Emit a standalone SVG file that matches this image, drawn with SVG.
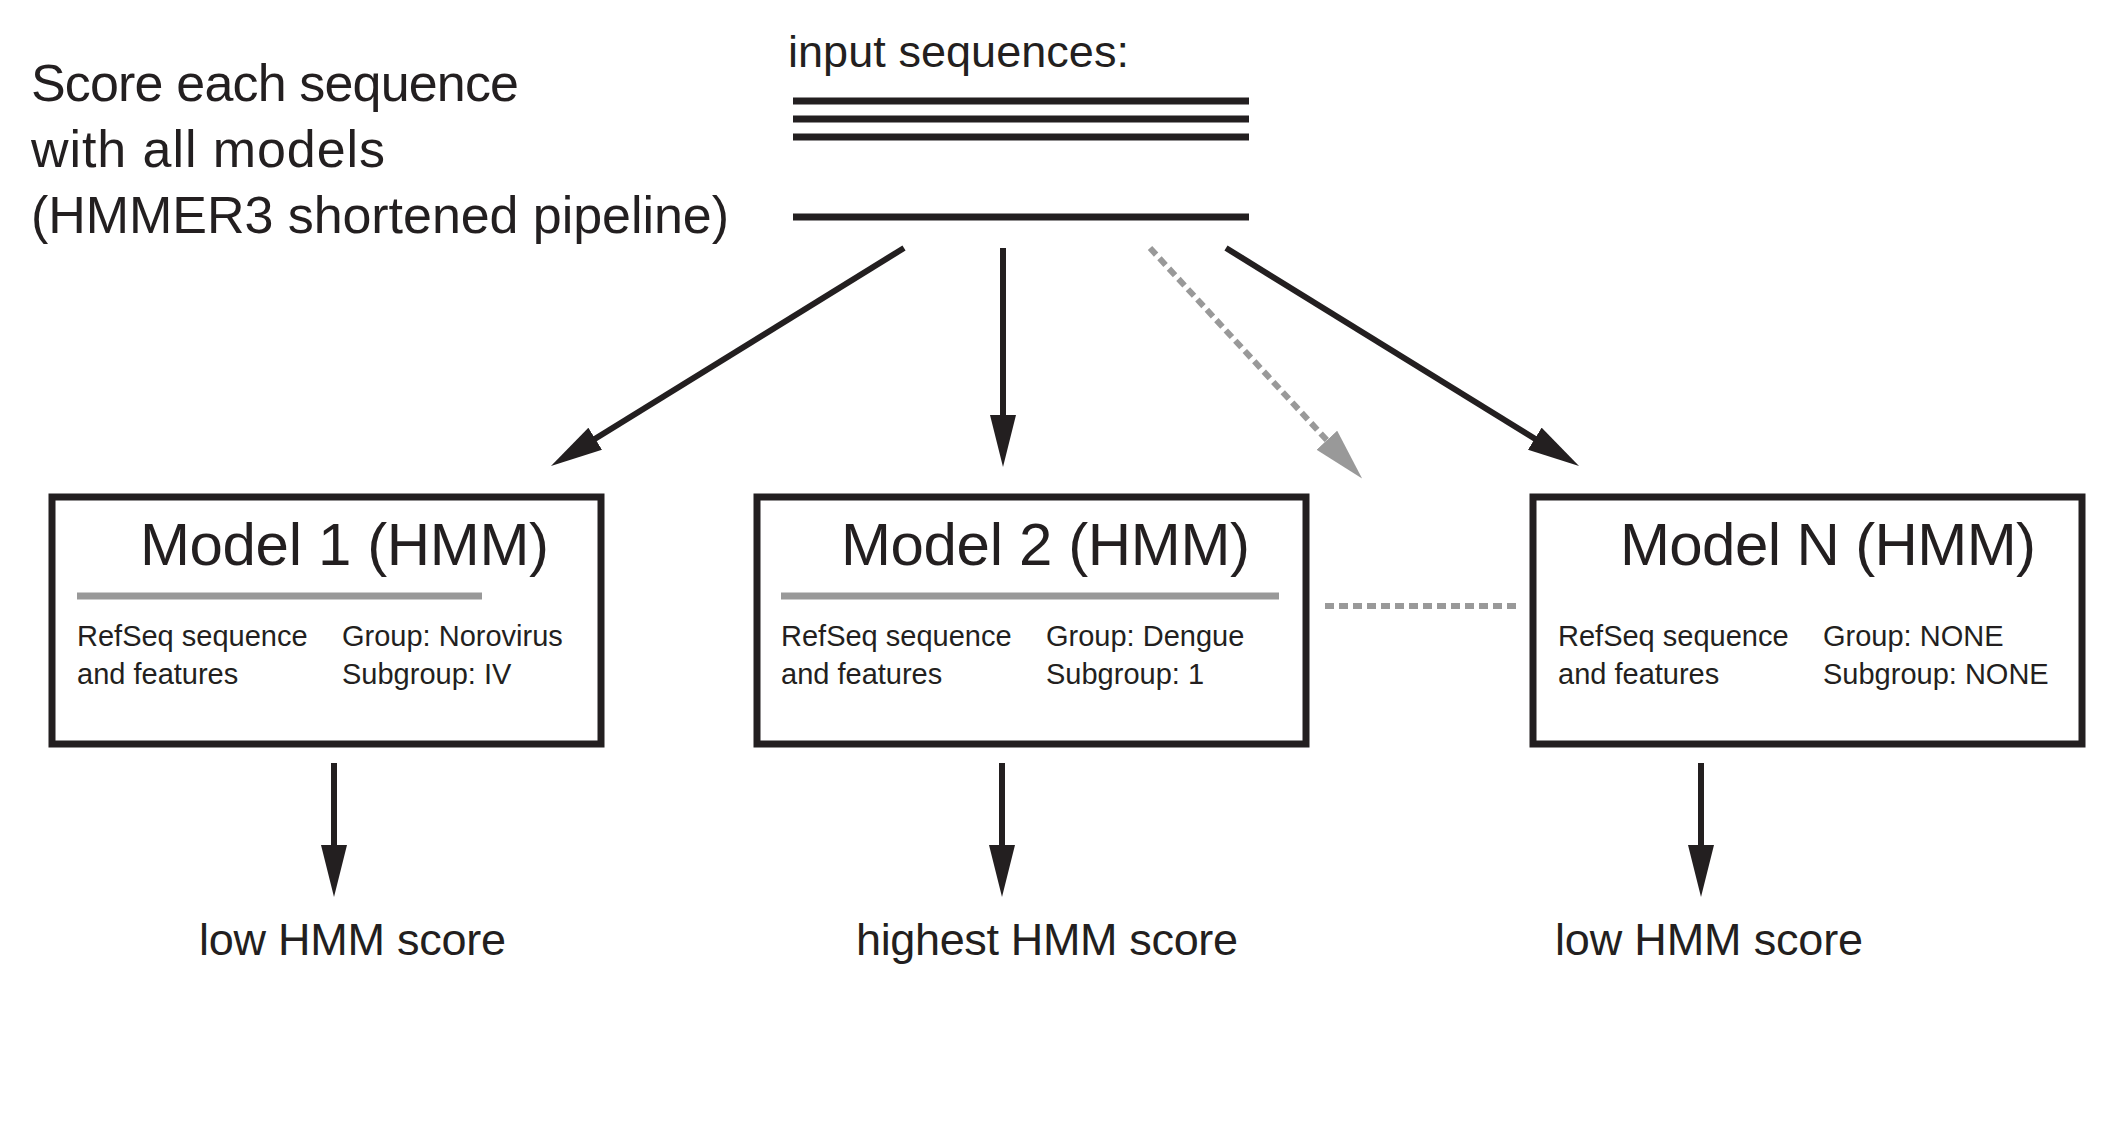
<svg xmlns="http://www.w3.org/2000/svg" width="2126" height="1128" viewBox="0 0 2126 1128">
<style>
text{font-family:"Liberation Sans",Arial,sans-serif;fill:#231f20}
.title{font-size:52px}
.inp{font-size:45px}
.model{font-size:60px}
.body{font-size:29px}
.score{font-size:45px}
.box{fill:#fff;stroke:#231f20;stroke-width:7}
.bar{stroke:#999;stroke-width:7}
.seq{stroke:#231f20;stroke-width:7}
.arr{stroke:#231f20;stroke-width:6;fill:none;marker-end:url(#ah)}
.darr{stroke:#999;stroke-width:6;fill:none;stroke-dasharray:9 5;marker-end:url(#ahg)}
.dash{stroke:#999;stroke-width:6;stroke-dasharray:9 5}
</style>
<defs>
<marker id="ah" markerUnits="userSpaceOnUse" markerWidth="54" markerHeight="28" refX="12" refY="13" orient="auto">
<path d="M0,0 L52,13 L0,26 Z" fill="#231f20"/>
</marker>
<marker id="ahg" markerUnits="userSpaceOnUse" markerWidth="54" markerHeight="30" refX="12" refY="14" orient="auto">
<path d="M0,0 L52,14 L0,28 Z" fill="#999"/>
</marker>
</defs>
<rect width="2126" height="1128" fill="#fff"/>
<g id="header">
<text class="title" x="31" y="101" textLength="488">Score each sequence</text>
<text class="title" x="31" y="167" textLength="354">with all models</text>
<text class="title" x="31" y="233" textLength="698">(HMMER3 shortened pipeline)</text>
</g>
<g id="input">
<text class="inp" x="788" y="67" textLength="341">input sequences:</text>
<line class="seq" x1="793" y1="101" x2="1249" y2="101"/>
<line class="seq" x1="793" y1="119" x2="1249" y2="119"/>
<line class="seq" x1="793" y1="137" x2="1249" y2="137"/>
<line class="seq" x1="793" y1="217" x2="1249" y2="217"/>
</g>
<g id="model1">
<rect class="box" x="52" y="497" width="549" height="247"/>
<text class="model" x="140" y="565" textLength="409">Model 1 (HMM)</text>
<line class="bar" x1="77" y1="596" x2="482" y2="596"/>
<text class="body" x="77" y="646">RefSeq sequence</text>
<text class="body" x="77" y="684">and features</text>
<text class="body" x="342" y="646">Group: Norovirus</text>
<text class="body" x="342" y="684">Subgroup: IV</text>
</g>
<g id="model2">
<rect class="box" x="757" y="497" width="549" height="247"/>
<text class="model" x="841" y="565" textLength="409">Model 2 (HMM)</text>
<line class="bar" x1="781" y1="596" x2="1279" y2="596"/>
<text class="body" x="781" y="646">RefSeq sequence</text>
<text class="body" x="781" y="684">and features</text>
<text class="body" x="1046" y="646">Group: Dengue</text>
<text class="body" x="1046" y="684">Subgroup: 1</text>
</g>
<g id="modelN">
<rect class="box" x="1533" y="497" width="549" height="247"/>
<text class="model" x="1620" y="565" textLength="416">Model N (HMM)</text>
<text class="body" x="1558" y="646">RefSeq sequence</text>
<text class="body" x="1558" y="684">and features</text>
<text class="body" x="1823" y="646">Group: NONE</text>
<text class="body" x="1823" y="684">Subgroup: NONE</text>
</g>
<g id="score1"><text class="score" x="199" y="955" textLength="307">low HMM score</text></g>
<g id="score2"><text class="score" x="856" y="955" textLength="382">highest HMM score</text></g>
<g id="scoreN"><text class="score" x="1555" y="955" textLength="308">low HMM score</text></g>
<g id="connectors">
<line class="arr" x1="904" y1="248" x2="585" y2="445"/>
<line class="arr" x1="1003" y1="248" x2="1003" y2="427"/>
<line class="darr" x1="1150" y1="248" x2="1335" y2="449"/>
<line class="arr" x1="1226" y1="248" x2="1545" y2="445"/>
<line class="dash" x1="1325" y1="606" x2="1517" y2="606"/>
<line class="arr" x1="334" y1="763" x2="334" y2="857"/>
<line class="arr" x1="1002" y1="763" x2="1002" y2="857"/>
<line class="arr" x1="1701" y1="763" x2="1701" y2="857"/>
</g>
</svg>
